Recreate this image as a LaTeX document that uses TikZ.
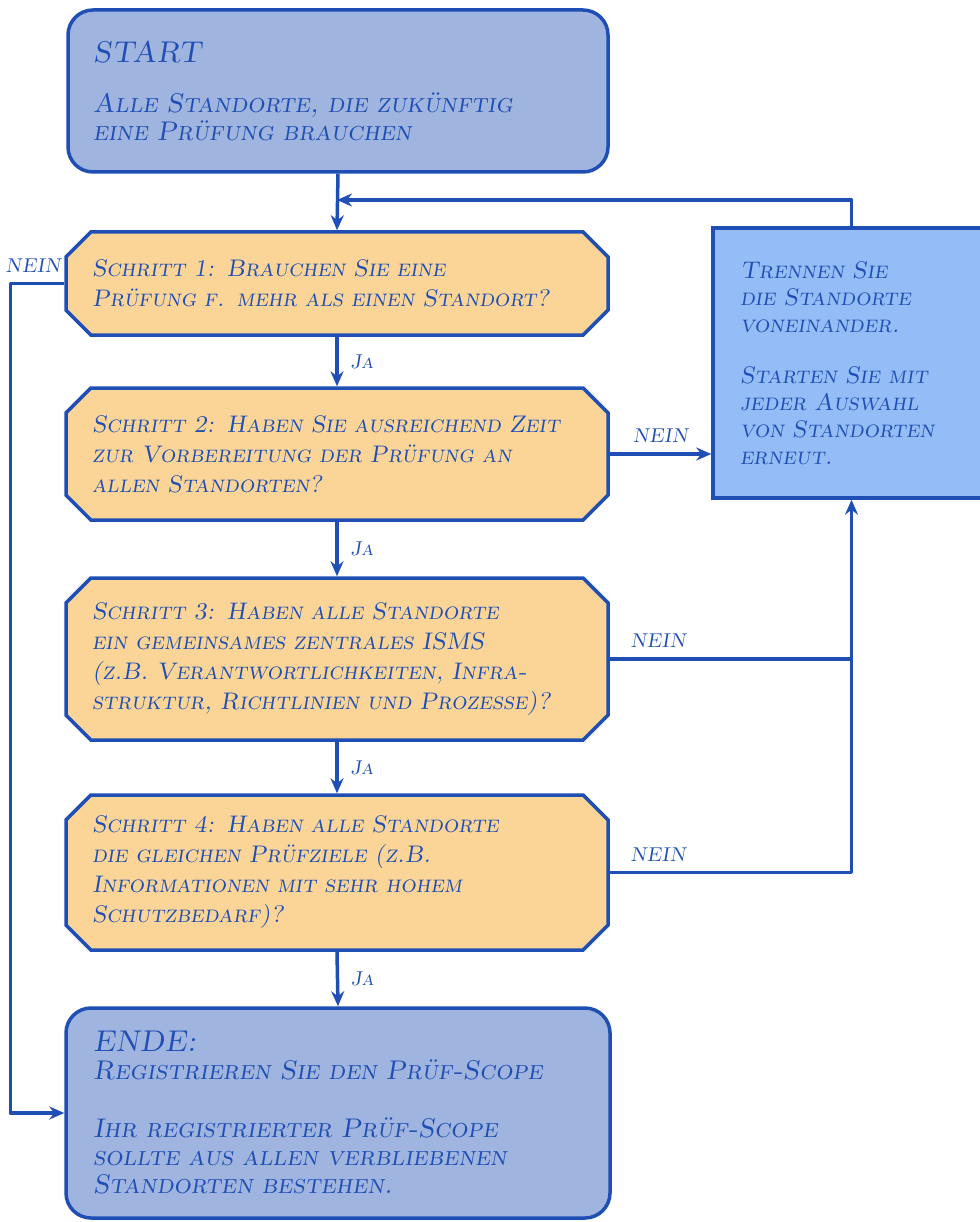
\documentclass[tikz,border=0pt]{standalone}
\usetikzlibrary{shapes.misc,arrows.meta}
\definecolor{ink}{HTML}{1F4EB4}
\definecolor{termfill}{HTML}{9FB4DE}
\definecolor{stepfill}{HTML}{FAD597}
\definecolor{sepfill}{HTML}{94BCF6}
\begin{document}
\begin{tikzpicture}
[x=1pt,y=-1pt,
 every node/.style={text=ink,font=\fontsize{24}{30}\selectfont\slshape\scshape},
 termbox/.style={rectangle,rounded corners=25pt,draw=ink,fill=termfill,line width=3.5pt,align=left,text width=490pt,
   font=\fontsize{27}{28}\selectfont\slshape\scshape},
 stepbox/.style={chamfered rectangle,chamfered rectangle xsep=22pt,draw=ink,fill=stepfill,line width=3.5pt,
   minimum width=542pt,align=left,text width=490pt},
 sepbox/.style={rectangle,draw=ink,fill=sepfill,line width=3.5pt,align=left,text width=223pt,
   font=\fontsize{24}{27}\selectfont\slshape\scshape},
 lbl/.style={font=\fontsize{20}{22}\selectfont\slshape\scshape},
 arr/.style={draw=ink,line width=3.5pt,line join=round,-{Stealth[length=15pt,width=13pt,inset=5pt]}},
 wire/.style={draw=ink,line width=3.5pt,line join=round}]
\useasboundingbox (0,0) rectangle (979,1222);
\node [termbox,minimum width=540pt,minimum height=162pt] (start) at (338,91)
  {{\fontsize{30}{30}\selectfont START}\\[22pt] Alle Standorte, die zukünftig\\ eine Prüfung brauchen};
\node [stepbox,minimum height=103pt] (s1) at (337,283.5)
  {Schritt 1: Brauchen Sie eine\\ Prüfung f. mehr als einen Standort?};
\node [stepbox,minimum height=132pt] (s2) at (337,454)
  {Schritt 2: Haben Sie ausreichend Zeit\\ zur Vorbereitung der Prüfung an\\ allen Standorten?};
\node [stepbox,minimum height=162pt] (s3) at (337,659)
  {Schritt 3: Haben alle Standorte\\ ein gemeinsames zentrales ISMS\\ (z.B. Verantwortlichkeiten, Infra-\\ struktur, Richtlinien und Prozesse)?};
\node [stepbox,minimum height=155pt] (s4) at (337,872.5)
  {Schritt 4: Haben alle Standorte\\ die gleichen Prüfziele (z.B.\\ Informationen mit sehr hohem\\ Schutzbedarf)?};
\node [termbox,minimum width=544pt,minimum height=210pt] (endb) at (338,1113)
  {{\fontsize{30}{30}\selectfont ENDE:}\\ Registrieren Sie den Prüf-Scope\\[30pt] Ihr registrierter Prüf-Scope\\ sollte aus allen verbliebenen\\ Standorten bestehen.};
\node [sepbox,minimum width=277pt,minimum height=270pt] (sep) at (851.5,363)
  {Trennen Sie\\ die Standorte\\ voneinander.\\[24pt] Starten Sie mit\\ jeder Auswahl\\ von Standorten\\ erneut.};
\coordinate (merge) at (337,200);
\draw [arr] (start.south) -- (s1.north);
\draw [arr] (sep.north) |- (merge);
\draw [arr] (s1.south) -- node [lbl,right=8pt] {Ja} (s2.north);
\draw [arr] (s2.south) -- node [lbl,right=8pt] {Ja} (s3.north);
\draw [arr] (s3.south) -- node [lbl,right=8pt] {Ja} (s4.north);
\draw [arr] (s4.south) -- node [lbl,right=8pt] {Ja} (endb.north);
\draw [arr] (s2.east) -- node [lbl,above=6pt] {NEIN} (s2.east -| sep.west);
\draw [wire] (s3.east) -- node [lbl,above=6pt,pos=0.2] {NEIN} (s3.east -| sep.south);
\draw [arr] (s4.east) -- node [lbl,above=6pt,pos=0.2] {NEIN} (s4.east -| sep.south) -- (sep.south);
\draw [arr] (s1.west) -- node [lbl,above=6pt,xshift=-4pt] {NEIN} ++(-54,0) |- (endb.west);
\end{tikzpicture}
\end{document}
